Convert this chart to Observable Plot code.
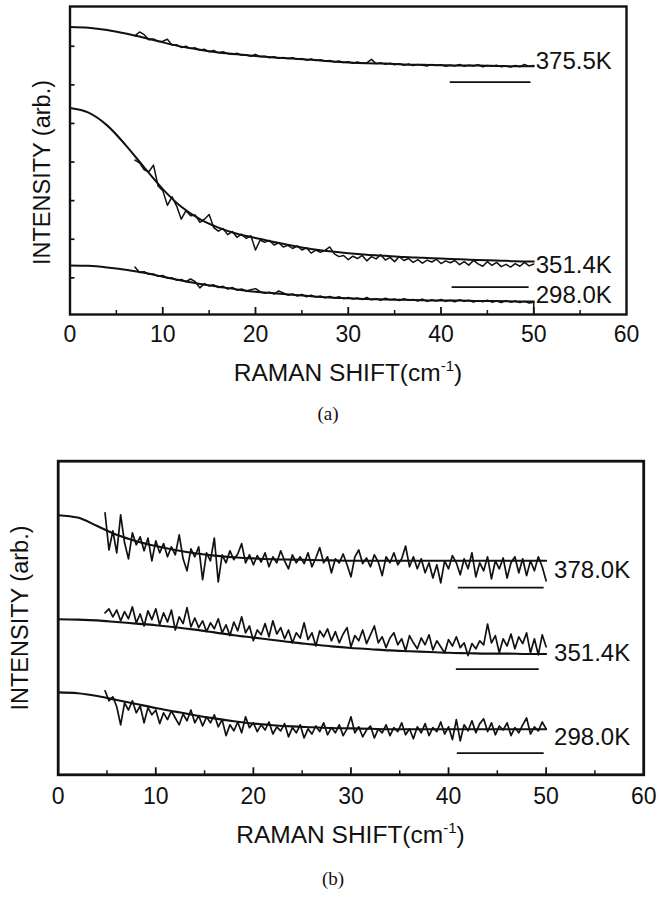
<!DOCTYPE html>
<html><head><meta charset="utf-8">
<script src="https://cdn.jsdelivr.net/npm/d3@7"></script>
<script src="https://cdn.jsdelivr.net/npm/@observablehq/plot@0.6"></script>
<style>
html,body{margin:0;padding:0;background:#fff;overflow:hidden;}
#page{position:relative;width:657px;height:897px;overflow:hidden;background:#fff;font-family:"Liberation Sans",Arial,sans-serif;color:#111;}
.pl{position:absolute;left:0;}
.xt{position:absolute;transform:translate(-50%,-50%);font-size:24.5px;white-space:nowrap;line-height:1;}
.xt sup{font-size:15px;vertical-align:0;position:relative;top:-10px;}
.cap{position:absolute;transform:translate(-50%,-50%);font-family:"Liberation Serif","DejaVu Serif",serif;font-size:19px;line-height:1;}
</style></head><body><div id="page"></div>
<script>
// ---------- axes ----------
const xTicks = [0, 10, 20, 30, 40, 50, 60];
const xMinor = [5, 15, 25, 35, 45, 55];
const yTicksA = [1, 2, 3, 4, 5, 6, 7];

// ---------- fitted curves (both panels share the x grid) ----------
const fitX = [0,2,4,6,8,10,12,14,16,18,20,22,24,26,28,30,32,34,36,38,40,42,44,46,48,50];
const fit375A = [7.50,7.48,7.42,7.33,7.22,7.10,6.99,6.91,6.84,6.79,6.75,6.71,6.68,6.65,6.61,6.58,6.56,6.55,6.53,6.52,6.51,6.50,6.50,6.49,6.48,6.48];
const fit351A = [5.40,5.28,4.95,4.44,3.86,3.30,2.84,2.52,2.30,2.14,2.03,1.93,1.83,1.75,1.69,1.64,1.60,1.57,1.54,1.52,1.50,1.48,1.46,1.45,1.43,1.42];
const fit298A = [1.32,1.31,1.27,1.21,1.13,1.03,0.93,0.84,0.77,0.70,0.64,0.60,0.56,0.52,0.49,0.47,0.45,0.44,0.43,0.42,0.41,0.41,0.40,0.40,0.39,0.39];
const fit378B = [6.49,6.43,6.22,6.00,5.84,5.72,5.62,5.54,5.48,5.44,5.41,5.39,5.38,5.37,5.36,5.35,5.35,5.35,5.35,5.35,5.35,5.35,5.35,5.35,5.35,5.35];
const fit351B = [3.89,3.88,3.86,3.82,3.78,3.74,3.69,3.63,3.56,3.49,3.43,3.37,3.31,3.26,3.21,3.17,3.14,3.11,3.09,3.07,3.05,3.04,3.03,3.03,3.02,3.02];
const fit298B = [2.06,2.04,1.97,1.87,1.77,1.67,1.58,1.49,1.41,1.34,1.28,1.24,1.21,1.19,1.17,1.16,1.15,1.14,1.14,1.14,1.14,1.14,1.14,1.14,1.14,1.14];

// ---------- measured spectra: panel (a) sampled from 7 cm-1 every 0.5 cm-1 ----------
const shiftStartA = 7, shiftStepA = 0.5;
const d375A = [7.27,7.37,7.30,7.17,7.19,7.12,7.13,7.18,7.03,7.04,
6.97,7.00,6.94,6.96,6.90,6.92,6.86,6.89,6.83,6.86,
6.81,6.79,6.82,6.77,6.78,6.74,6.79,6.73,6.74,6.70,
6.73,6.69,6.71,6.68,6.70,6.66,6.68,6.64,6.67,6.63,
6.65,6.61,6.63,6.59,6.62,6.58,6.60,6.56,6.59,6.56,
6.57,6.66,6.55,6.57,6.53,6.56,6.52,6.55,6.51,6.54,
6.50,6.53,6.51,6.49,6.53,6.50,6.52,6.48,6.51,6.49,
6.53,6.48,6.51,6.49,6.52,6.47,6.50,6.48,6.51,6.47,
6.49,6.46,6.50,6.47,6.53,6.48,6.50];
const d351A = [4.05,3.98,3.80,3.75,3.92,3.38,3.26,2.88,3.10,2.86,
2.52,2.74,2.61,2.63,2.44,2.52,2.64,2.30,2.21,2.28,
2.12,2.20,2.05,2.13,2.02,2.09,1.72,1.98,1.92,1.97,
1.85,1.91,1.80,1.84,1.76,1.83,1.72,1.78,1.64,1.72,
1.66,1.71,1.80,1.62,1.55,1.58,1.47,1.56,1.50,1.58,
1.44,1.55,1.49,1.60,1.46,1.53,1.42,1.55,1.45,1.50,
1.40,1.47,1.38,1.46,1.41,1.48,1.37,1.44,1.39,1.45,
1.34,1.42,1.33,1.45,1.36,1.30,1.42,1.32,1.40,1.29,
1.35,1.28,1.37,1.30,1.40,1.31,1.36];
const d298A = [1.28,1.14,1.16,1.09,1.10,1.04,1.06,0.99,1.00,0.94,
0.96,0.90,0.97,0.90,0.74,0.85,0.79,0.82,0.75,0.78,
0.71,0.75,0.68,0.71,0.66,0.69,0.72,0.64,0.60,0.63,
0.58,0.66,0.61,0.55,0.58,0.53,0.57,0.51,0.55,0.50,
0.53,0.48,0.52,0.47,0.51,0.46,0.49,0.45,0.48,0.44,
0.49,0.43,0.46,0.42,0.47,0.43,0.45,0.41,0.46,0.42,
0.44,0.40,0.45,0.39,0.43,0.40,0.44,0.39,0.42,0.38,
0.43,0.39,0.42,0.37,0.41,0.38,0.42,0.37,0.40,0.36,
0.41,0.37,0.40,0.36,0.39,0.35,0.37];

// ---------- measured spectra: panel (b) sampled from 4.8 cm-1 every 0.4 cm-1 ----------
const shiftStartB = 4.8, shiftStepB = 0.4;
const d378B = [6.55,5.62,6.10,5.55,6.50,5.80,5.40,6.05,5.75,5.95,
5.60,5.92,5.35,5.85,5.55,5.78,5.45,5.70,5.50,6.00,
5.40,5.10,5.65,5.45,5.70,4.88,5.55,5.35,5.92,4.82,
5.50,5.30,5.60,5.38,5.52,5.78,5.30,5.50,5.25,5.48,
5.32,5.55,5.20,5.45,5.30,5.60,5.35,5.15,5.50,5.30,
5.45,5.28,5.55,5.20,5.42,5.68,5.30,5.45,5.05,5.40,
5.30,5.52,5.25,4.95,5.45,5.62,5.28,5.42,5.20,5.50,
5.32,4.98,5.45,5.30,5.55,5.25,5.40,5.72,5.20,5.45,
5.15,5.40,5.05,5.30,4.92,5.25,4.80,5.35,5.15,5.48,
5.30,5.00,5.40,5.15,5.55,4.95,5.30,5.10,5.45,4.90,
5.35,5.15,5.42,4.92,5.30,5.45,5.05,5.40,4.98,5.35,
5.10,5.45,5.20,4.85];
const d351B = [4.05,4.15,3.95,4.12,3.85,4.08,3.90,4.20,3.80,4.02,
3.72,4.10,3.88,4.15,3.75,4.05,3.82,4.12,3.62,3.95,
3.78,4.18,3.70,3.92,3.68,3.85,3.58,3.80,3.65,3.90,
3.55,3.75,3.48,3.82,3.60,3.95,3.55,3.72,3.35,3.62,
3.50,3.78,3.45,3.85,3.52,3.68,3.40,3.62,3.30,3.55,
3.42,3.80,3.38,3.55,3.22,3.60,3.45,3.65,3.35,3.58,
3.30,3.52,3.68,3.20,3.48,3.35,3.62,3.28,3.50,3.72,
3.30,3.45,3.18,3.42,3.55,3.25,3.40,3.10,3.48,3.30,
3.15,3.42,3.25,3.50,3.12,3.35,3.20,3.05,3.38,3.22,
3.45,3.18,3.30,2.98,3.28,3.15,3.35,3.25,3.77,3.30,
3.48,3.05,3.40,3.22,3.52,3.15,3.45,3.28,3.55,3.05,
3.40,3.00,3.50,3.20];
const d298B = [2.10,1.85,1.95,1.70,1.25,1.80,1.62,1.85,1.55,1.72,
1.30,1.68,1.50,1.62,1.28,1.55,1.38,1.60,1.42,1.25,
1.52,1.35,1.62,1.30,1.48,1.22,1.45,1.30,1.50,1.20,
1.38,0.98,1.25,1.10,1.32,1.05,1.45,1.18,1.30,1.08,
1.25,1.12,1.32,1.02,1.20,1.10,1.28,0.95,1.18,1.05,
1.25,0.92,1.15,1.02,1.22,1.08,1.30,1.00,1.18,1.05,
1.25,0.98,1.15,1.45,1.05,1.20,0.95,1.12,1.22,0.92,
1.15,1.05,1.25,0.98,1.18,1.08,1.30,1.00,1.15,0.90,
1.20,1.05,1.28,0.98,1.18,1.08,1.32,1.02,1.20,0.88,
1.38,0.85,1.25,1.10,1.35,1.05,1.28,1.40,1.08,1.30,
1.00,1.22,1.12,1.30,0.98,1.18,1.05,1.25,1.42,1.02,
1.20,1.10,1.32,1.15];

// ---------- series names, zero-level bars, label levels ----------
const namesA = ["375.5K", "351.4K", "298.0K"];
const namesB = ["378.0K", "351.4K", "298.0K"];
const labelLevelA = [6.61, 1.32, 0.54];
const labelLevelB = [5.12, 3.04, 0.93];
const baseX1A = [41.0, 41.2], baseX2A = [49.7, 49.5], baseLevelA = [6.07, 0.76];
const baseX1B = [41.0, 40.8, 40.9], baseX2B = [49.8, 49.3, 49.8], baseLevelB = [4.68, 2.64, 0.54];

// ---------- build tables ----------
function dataRows(names, arrays, start, step) {
  return names.flatMap((s, k) => arrays[k].map((v, i) => ({s, x: +(start + i * step).toFixed(3), v})));
}
function curveRows(names, arrays) {
  return names.flatMap((s, k) => arrays[k].map((v, i) => ({s, x: fitX[i], v})));
}
function baseRows(x1, x2, lv) { return lv.map((level, i) => ({x1: x1[i], x2: x2[i], level})); }

const W = 657;
function panel(o) {
  const fw = W - o.ml - o.mr, fh = o.h - o.mt - o.mb;
  const data = dataRows(o.names, o.arrays, o.start, o.step);
  const endX = d3.max(data, d => d.x);
  const labels = o.names.map((name, i) => ({name, level: o.labelLevels[i], x: endX}));
  const marks = [
    Plot.line(data, {x: "x", y: "v", z: "s", stroke: "#111", strokeWidth: o.dw, strokeLinejoin: "round"}),
    Plot.line(curveRows(o.names, o.fits), {x: "x", y: "v", z: "s", stroke: "#111", strokeWidth: o.cw, curve: "monotone-x"}),
    Plot.ruleY(o.bases, {y: "level", x1: "x1", x2: "x2", stroke: "#111", strokeWidth: 1.8}),
    Plot.text(labels, {x: "x", y: "level", text: "name", textAnchor: "start", dx: o.ldx, fontSize: 24, fill: "#111"}),
    Plot.ruleX(xTicks.slice(1, -1), {insetTop: fh - 7, stroke: "#111", strokeWidth: 1.8}),
    Plot.ruleX(xMinor, {insetTop: fh - 4, stroke: "#111", strokeWidth: 1.5}),
    Plot.axisX({ticks: xTicks, tickSize: 0, tickPadding: o.tp, fontSize: 23, label: null, tickFormat: d => String(d), fill: "#111"}),
    Plot.text(["INTENSITY (arb.)"], {text: d => d, frameAnchor: "left", textAnchor: "middle", lineAnchor: "middle", rotate: -90, dx: o.ydx, dy: o.ydy, fontSize: 23.5, fill: "#111"}),
    Plot.frame({stroke: "#111", strokeWidth: o.frw})
  ];
  if (o.yTicks) marks.push(Plot.ruleY(o.yTicks, {insetRight: fw - 5, stroke: "#111", strokeWidth: 1.7}));
  if (o.dropLast) {
    const last = data.filter(d => d.s === o.dropLast).at(-1);
    marks.push(Plot.ruleX([last], {x: "x", y1: o.yDomain[0], y2: "v", stroke: "#111", strokeWidth: 1.5}));
  }
  return Plot.plot({
    width: W, height: o.h,
    marginTop: o.mt, marginBottom: o.mb, marginLeft: o.ml, marginRight: o.mr,
    x: {domain: [0, 60]},
    y: {domain: o.yDomain, axis: null},
    style: {fontFamily: "'Liberation Sans', Arial, sans-serif", fontSize: "23px", color: "#111", background: "white", overflow: "visible"},
    marks
  });
}

const page = document.getElementById("page");
function place(node, top) {
  const d = document.createElement("div");
  d.className = "pl"; d.style.top = top + "px";
  d.appendChild(node); page.appendChild(d);
}
function html(cls, left, top, inner) {
  const d = document.createElement("div");
  d.className = cls; d.style.left = left + "px"; d.style.top = top + "px";
  d.innerHTML = inner; page.appendChild(d);
}

place(panel({
  h: 400, mt: 6, mb: 86, ml: 69.5, mr: 31,
  yDomain: [0.05, 8.03], yTicks: yTicksA,
  names: namesA, arrays: [d375A, d351A, d298A], start: shiftStartA, step: shiftStepA,
  fits: [fit375A, fit351A, fit298A],
  bases: baseRows(baseX1A, baseX2A, baseLevelA),
  labelLevels: labelLevelA, ldx: 2, tp: 11,
  dw: 1.5, cw: 2.0, frw: 2.4, ydx: -27.5, ydy: 12, dropLast: "298.0K"
}), 0);

place(panel({
  h: 360, mt: 20.7, mb: 25.7, ml: 57.7, mr: 13.8,
  yDomain: [0, 7.84], yTicks: null,
  names: namesB, arrays: [d378B, d351B, d298B], start: shiftStartB, step: shiftStepB,
  fits: [fit378B, fit351B, fit298B],
  bases: baseRows(baseX1B, baseX2B, baseLevelB),
  labelLevels: labelLevelB, ldx: 8, tp: 13,
  dw: 1.7, cw: 2.1, frw: 2.8, ydx: -37.7, ydy: 0, dropLast: null
}), 440);

html("xt", 348, 373, "RAMAN SHIFT(cm<sup>-1</sup>)");
html("xt", 350.5, 835, "RAMAN SHIFT(cm<sup>-1</sup>)");
html("cap", 328, 413, "(a)");
html("cap", 333, 878, "(b)");
</script>
</body></html>
